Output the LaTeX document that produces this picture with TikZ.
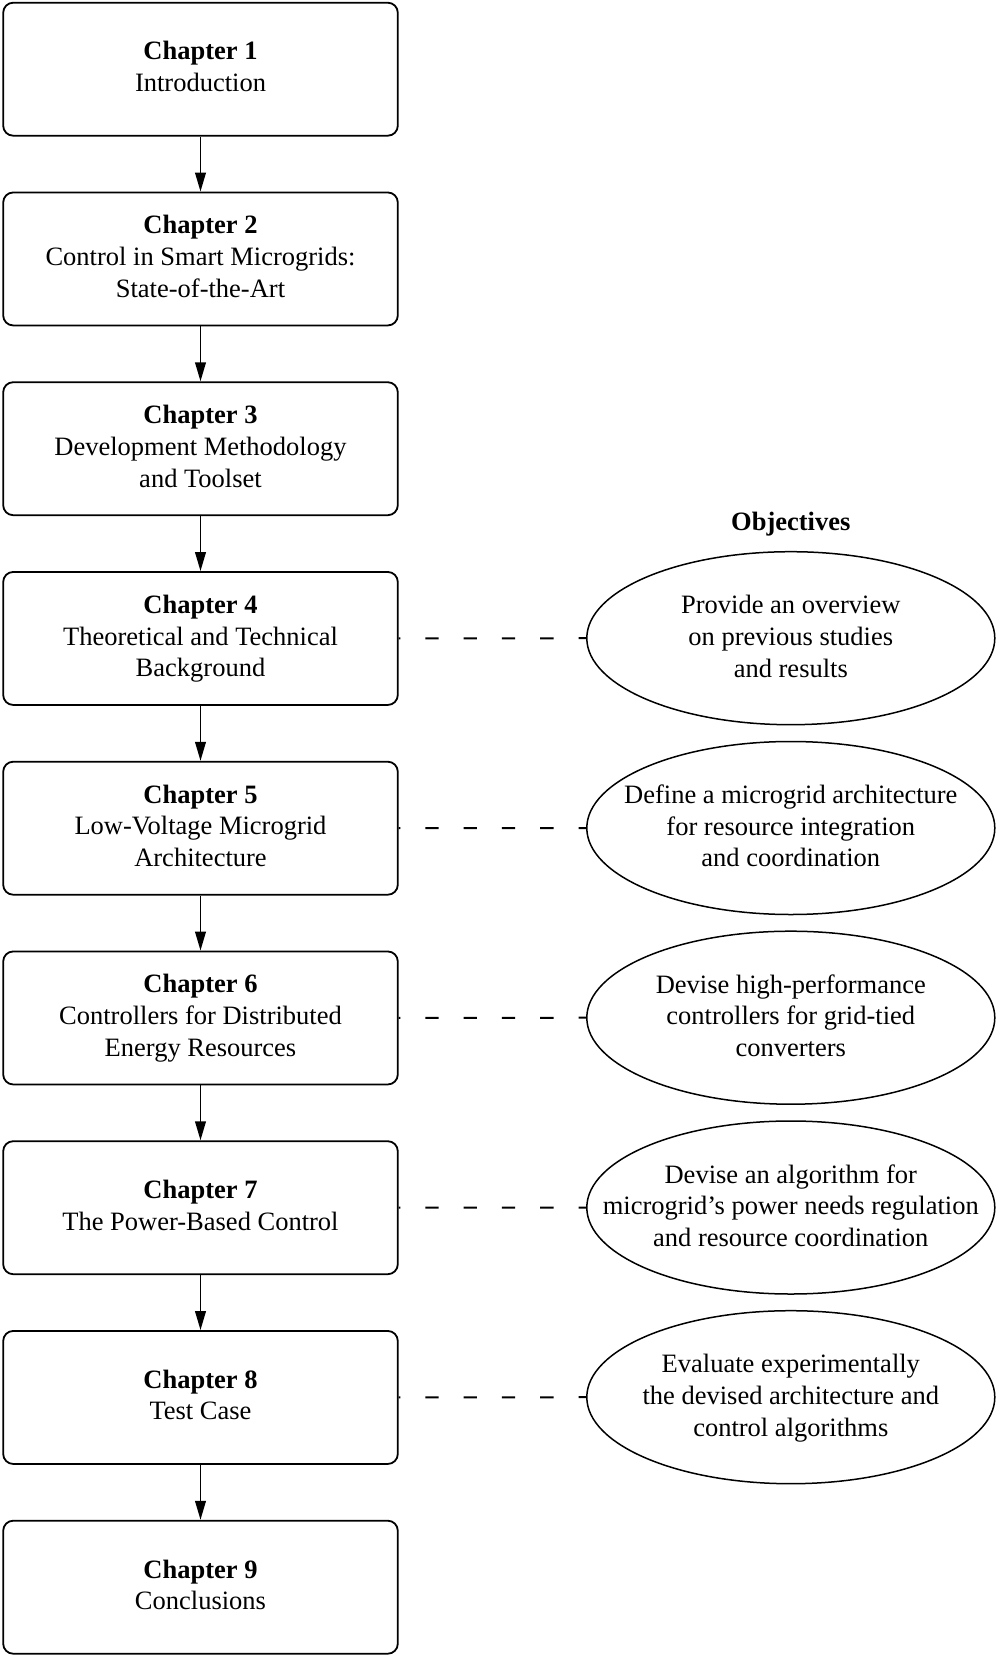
\documentclass[tikz,border=0pt]{standalone}
\usepackage{fontspec}
\setmainfont{Liberation Serif}
\usetikzlibrary{shapes.geometric,arrows.meta}

\tikzset{
  basetext/.style={align=center, inner sep=0pt,
    font=\fontsize{26.5}{31.7}\selectfont},
  chaptext/.style={basetext,
    execute at begin node=\strut, execute at end node=\strut},
  chapbox/.style={draw, line width=1.8pt, rounded corners=10pt,
    minimum width=394.6pt, minimum height=133pt, inner sep=0pt},
  goal/.style={draw, ellipse, line width=1.5pt, inner sep=0pt,
    minimum width=408pt, minimum height=173pt},
  flow/.style={line width=1.8pt, -{Triangle[length=19pt,width=10.7pt]}},
  link/.style={line width=2pt, dash pattern=on 13.3pt off 25pt, dash phase=11.7pt}
}

\begin{document}
\begin{tikzpicture}[x=1pt,y=-1pt]
  \useasboundingbox (0,0) rectangle (996,1655);

  % chapter boxes (centres 189.75 apart)
  \foreach \i in {1,...,9} {
    \node[chapbox] (c\i) at (200.5, {69.2+189.75*(\i-1)}) {};
  }

  \node[chaptext] (t1) at ([yshift=-2.2pt]c1.center) {\textbf{Chapter 1}\\Introduction};
  \node[chaptext] (t2) at ([yshift=-2.2pt]c2.center) {\textbf{Chapter 2}\\Control in Smart Microgrids:\\State-of-the-Art};
  \node[chaptext] (t3) at ([yshift=-2.2pt]c3.center) {\textbf{Chapter 3}\\Development Methodology\\and Toolset};
  \node[chaptext] (t4) at ([yshift=-2.2pt]c4.center) {\textbf{Chapter 4}\\Theoretical and Technical\\Background};
  \node[chaptext] (t5) at ([yshift=-2.2pt]c5.center) {\textbf{Chapter 5}\\Low-Voltage Microgrid\\Architecture};
  \node[chaptext] (t6) at ([yshift=-2.2pt]c6.center) {\textbf{Chapter 6}\\Controllers for Distributed\\Energy Resources};
  \node[chaptext] (t7) at ([yshift=-2.2pt]c7.center) {\textbf{Chapter 7}\\The Power-Based Control};
  \node[chaptext] (t8) at ([yshift=-2.2pt]c8.center) {\textbf{Chapter 8}\\Test Case};
  \node[chaptext] (t9) at ([yshift=-2.2pt]c9.center) {\textbf{Chapter 9}\\Conclusions};

  % arrows between chapters
  \foreach \i [evaluate=\i as \j using int(\i+1)] in {1,...,8} {
    \draw[flow] (c\i.south) -- (c\j.north);
  }

  % objectives
  \node[basetext] (objh) at (790.8, 524) {\textbf{Objectives}};

  \node[goal] (o4) at (790.8, 638.2) {};
  \node[goal] (o5) at (790.8, 828.0) {};
  \node[goal] (o6) at (790.8, 1017.7) {};
  \node[goal] (o7) at (790.8, 1207.5) {};
  \node[goal] (o8) at (790.8, 1397.2) {};

  \node[chaptext] (g4) at ([yshift=-2.7pt]o4.center) {Provide an overview\\on previous studies\\and results};
  \node[chaptext] (g5) at ([yshift=-2.7pt]o5.center) {Define a microgrid architecture\\for resource integration\\and coordination};
  \node[chaptext] (g6) at ([yshift=-2.7pt]o6.center) {Devise high-performance\\controllers for grid-tied\\converters};
  \node[chaptext] (g7) at ([yshift=-2.7pt]o7.center) {Devise an algorithm for\\microgrid's power needs regulation\\and resource coordination};
  \node[chaptext] (g8) at ([yshift=-2.7pt]o8.center) {Evaluate experimentally\\the devised architecture and\\control algorithms};

  \foreach \i in {4,...,8} {
    \draw[link] (c\i.east) -- (o\i.west);
  }
\end{tikzpicture}
\end{document}
